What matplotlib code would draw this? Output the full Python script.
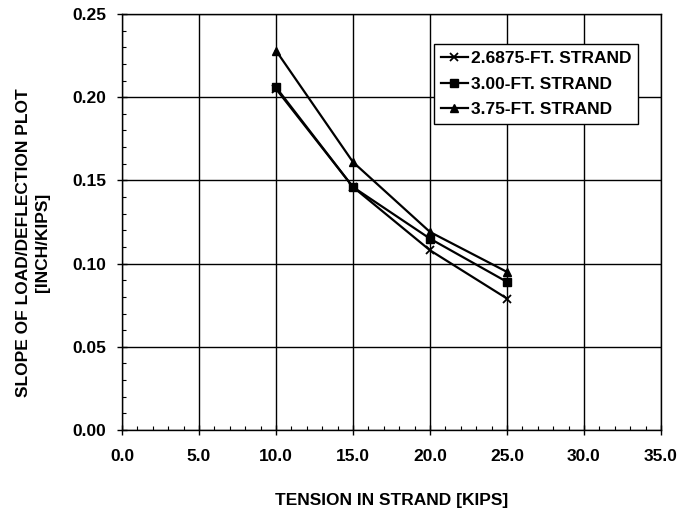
import matplotlib.pyplot as plt
from matplotlib.ticker import MultipleLocator

plt.rcParams['font.family'] = ['Liberation Sans', 'DejaVu Sans']
plt.rcParams['font.weight'] = 'bold'

tension = [10.0, 15.0, 20.0, 25.0]
strand_2_6875 = [0.205, 0.146, 0.108, 0.079]
strand_3_00 = [0.206, 0.146, 0.115, 0.089]
strand_3_75 = [0.228, 0.161, 0.119, 0.095]

x_ticks = [0, 5, 10, 15, 20, 25, 30, 35]
y_ticks = [0.0, 0.05, 0.10, 0.15, 0.20, 0.25]

fig = plt.figure(figsize=(6.85, 5.08), dpi=100)
ax = fig.add_axes([122 / 685, 78 / 508, 539 / 685, 416 / 508])

ax.plot(tension, strand_2_6875, color='black', lw=1.6, marker='x', ms=6, mew=1.3,
        label='2.6875-FT. STRAND')
ax.plot(tension, strand_3_00, color='black', lw=1.6, marker='s', ms=6,
        label='3.00-FT. STRAND')
ax.plot(tension, strand_3_75, color='black', lw=1.6, marker='^', ms=6,
        label='3.75-FT. STRAND')

ax.set_xticks(x_ticks)
ax.set_xticklabels(['%.1f' % v for v in x_ticks])
ax.set_yticks(y_ticks)
ax.set_yticklabels(['%.2f' % v for v in y_ticks])
ax.xaxis.set_minor_locator(MultipleLocator(1))
ax.yaxis.set_minor_locator(MultipleLocator(0.01))
ax.set_xlim(0, 35)
ax.set_ylim(0, 0.25)

ax.grid(True, which='major', color='black', lw=1.0)
ax.tick_params(which='major', direction='inout', length=7, width=1, labelsize=12.5)
ax.tick_params(axis='x', which='major', pad=10)
ax.tick_params(axis='y', which='major', pad=8)
ax.tick_params(which='minor', direction='in', length=3, width=0.8)
for s in ax.spines.values():
    s.set_linewidth(1.0)

ax.set_xlabel('TENSION IN STRAND [KIPS]', fontsize=12.5, fontweight='bold')
ax.xaxis.set_label_coords(0.5, -0.152)
ax.set_ylabel('SLOPE OF LOAD/DEFLECTION PLOT\n[INCH/KIPS]', fontsize=12.5,
              fontweight='bold', linespacing=1.3)
ax.yaxis.set_label_coords(-0.134, 0.451)

leg = ax.legend(loc='upper left', bbox_to_anchor=(434 / 685, 1 - 44 / 508),
                bbox_transform=fig.transFigure, fontsize=12.5, frameon=True,
                fancybox=False, edgecolor='black', framealpha=1,
                handlelength=1.55, handletextpad=0.17, borderpad=0.4,
                labelspacing=0.6, borderaxespad=0)
leg.get_frame().set_linewidth(1.0)

plt.savefig('out.png', dpi=100, facecolor='white')
